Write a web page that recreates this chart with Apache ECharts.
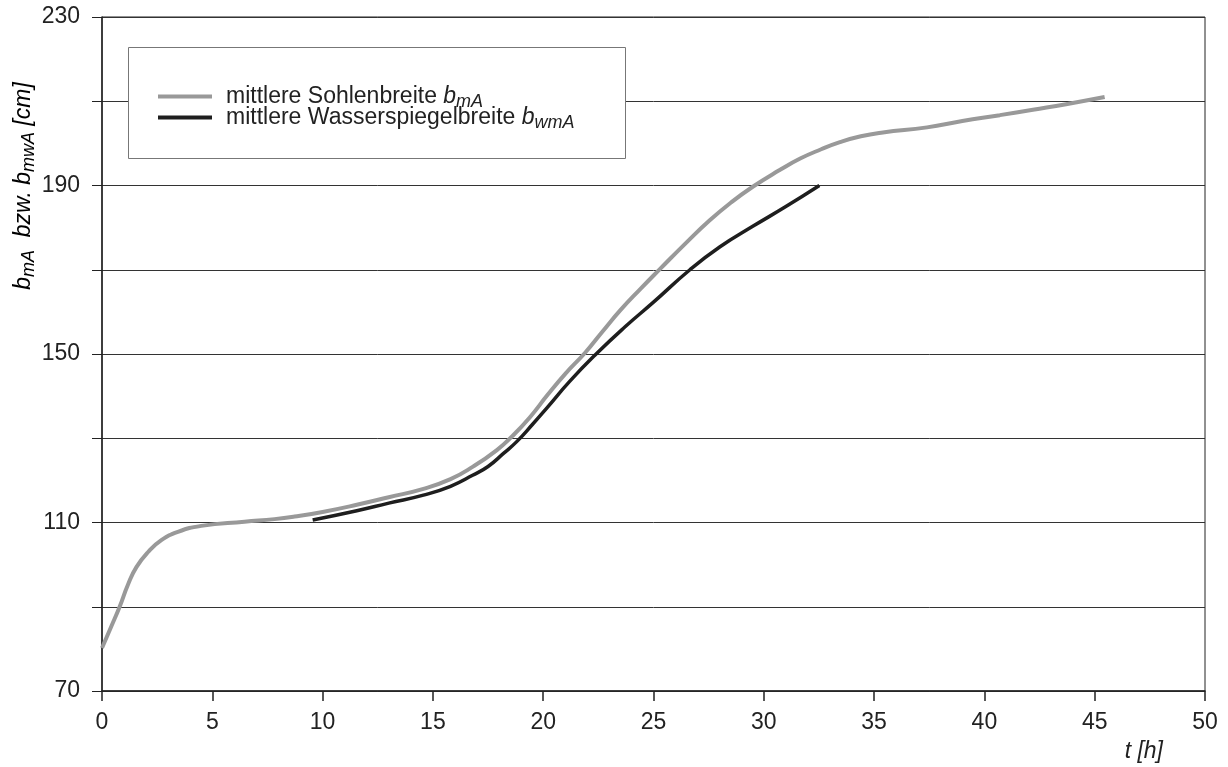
<!DOCTYPE html>
<html>
<head>
<meta charset="utf-8">
<script src="https://cdn.jsdelivr.net/npm/echarts@6/dist/echarts.min.js"></script>
<style>
html,body{margin:0;padding:0;background:#fff;}
#chart{width:1228px;height:767px;}
</style>
</head>
<body>
<div id="chart"></div>
<script>
// Time axis (h) and widths (cm)
var sohleT = [0,0.42,0.8,1.18,1.56,2.09,2.69,3.44,4.5,6.46,7.82,8.73,10,11.55,13,14.57,15.8,16.8,17.9,18.6,19.4,20.2,21,21.9,22.7,23.5,24.4,25.3,26.5,27.5,28.5,29.5,30.7,31.65,32.6,33.45,34.4,35.4,37.4,39,40.7,42.2,43.7,45.45];
var sohleV = [80.2,85.3,90,95.3,99.4,103,105.8,107.8,109.2,110.2,110.8,111.4,112.5,114.2,116,118,120.3,123.2,127.2,130.5,135,140.3,145.3,150.3,155.4,160.4,165.4,170.2,176.5,181.5,185.9,189.7,193.6,196.4,198.6,200.3,201.7,202.6,203.8,205.3,206.7,208,209.3,211];
var wspT = [9.55,11.55,13,14.57,15.8,16.8,17.5,18.2,18.8,19.5,20.2,21.2,22.4,23.7,25,26.65,28,29.5,31,32.52];
var wspV = [110.6,112.8,114.6,116.5,118.6,121.2,123.3,126.4,129.2,133.2,137.4,143.5,150,156.4,162.3,170,175.4,180.3,185,190];
var seriesNames = ['mittlere Sohlenbreite', 'mittlere Wasserspiegelbreite'];
var seriesSubs = ['mA', 'wmA'];
var xTicks = {min:0, max:50, interval:5};
var yTicks = {min:70, max:230, interval:20, labelStep:40};
var xTitle = 't [h]';

function pairs(t, v){ return t.map(function(x,i){ return [x, v[i]]; }); }

var FONT = '"Liberation Sans", Arial, sans-serif';
var FS = 23;
var chart = echarts.init(document.getElementById('chart'));
var richStyles = {
  n: {fontSize:FS, fontFamily:FONT, color:'#222'},
  ln: {fontSize:FS, fontFamily:FONT, color:'#222', padding:[0,0,0,9]},
  i: {fontSize:FS, fontFamily:FONT, color:'#222', fontStyle:'italic'},
  s: {fontSize:18, fontFamily:FONT, color:'#222', fontStyle:'italic', padding:[10,0,0,0]}
};
function legendFor(i, top){
  return {
    left:153, top:top, orient:'vertical', itemWidth:54, itemHeight:4,
    icon:'rect', z:10,
    data:[seriesNames[i]],
    formatter:function(name){
      var idx = seriesNames.indexOf(name);
      return '{ln|' + name + ' }{i|b}{s|' + seriesSubs[idx] + '}';
    },
    textStyle:{rich:richStyles}
  };
}
chart.setOption({
  animation:false,
  backgroundColor:'#fff',
  grid:{left:102, right:23, top:17, bottom:76, show:true, borderColor:'#222', borderWidth:1, backgroundColor:'transparent'},
  xAxis:{
    type:'value', min:xTicks.min, max:xTicks.max, interval:xTicks.interval,
    axisLine:{lineStyle:{color:'#222', width:1.5}},
    axisTick:{show:true, inside:false, length:10, lineStyle:{color:'#222', width:1.5}},
    axisLabel:{fontSize:FS, fontFamily:FONT, color:'#222', margin:20},
    splitLine:{show:false}
  },
  yAxis:{
    type:'value', min:yTicks.min, max:yTicks.max, interval:yTicks.interval,
    axisLine:{show:true, lineStyle:{color:'#222', width:1.5}},
    axisTick:{show:true, inside:false, length:10, lineStyle:{color:'#222', width:1}},
    axisLabel:{fontSize:FS, fontFamily:FONT, color:'#222', margin:22,
      formatter:function(v){ return ((v - yTicks.min) % yTicks.labelStep === 0) ? String(v) : ''; }},
    splitLine:{show:true, lineStyle:{color:'#333', width:1}}
  },
  legend:[legendFor(0, 80), legendFor(1, 101)],
  graphic:[
    {type:'rect', z:5, shape:{x:128.5, y:47.5, width:497, height:111}, style:{fill:'#fff', stroke:'#777', lineWidth:1}},
    {type:'text', z:10, x:1163, y:752, style:{text:xTitle, font:'italic ' + FS + 'px ' + FONT, fill:'#222', textAlign:'right', textVerticalAlign:'middle'}},
    {type:'text', z:10, x:24, y:186, rotation:Math.PI/2,
      style:{text:'{i|b}{s|mA}{i|  bzw. b}{s|mwA}{i| [cm]}', align:'center', verticalAlign:'middle',
        rich:richStyles}}
  ],
  series:[
    {name:seriesNames[0], type:'line', data:pairs(sohleT, sohleV), smooth:0.5, showSymbol:false, symbol:'none',
      lineStyle:{color:'#999', width:4}, itemStyle:{color:'#999'}, z:3},
    {name:seriesNames[1], type:'line', data:pairs(wspT, wspV), smooth:0.5, showSymbol:false, symbol:'none',
      lineStyle:{color:'#1e1e1e', width:3.5}, itemStyle:{color:'#1e1e1e'}, z:4}
  ]
});
</script>
</body>
</html>
